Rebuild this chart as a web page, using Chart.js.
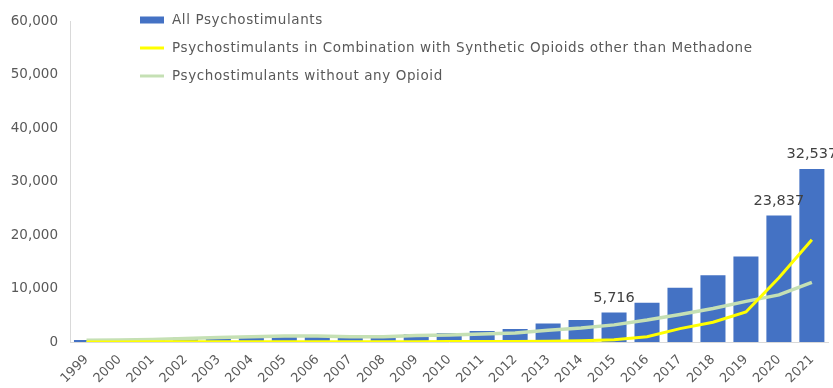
<!DOCTYPE html>
<html>
<head>
<meta charset="utf-8">
<script src="https://cdn.jsdelivr.net/npm/chart.js@4.4.1/dist/chart.umd.min.js"></script>
<style>
  html, body { margin: 0; padding: 0; background: #fff; }
  #wrap { width: 833px; height: 388px; position: relative; }
</style>
</head>
<body>
<div id="wrap"><canvas id="chart"></canvas></div>
<script>
// Overdose deaths involving psychostimulants, 1999-2021
const years = ['1999', '2000', '2001', '2002', '2003', '2004', '2005', '2006', '2007', '2008', '2009',
    '2010', '2011', '2012', '2013', '2014', '2015', '2016', '2017', '2018', '2019', '2020', '2021'];
const allPsychostimulants = [547, 578, 741, 960, 1073, 1331, 1506, 1459, 1388, 1302, 1632,
    1854, 2266, 2635, 3627, 4298, 5716, 7542, 10333, 12676, 16167, 23837, 32537];
const withSyntheticOpioids = [20, 20, 30, 40, 50, 60, 70, 70, 70, 60, 70,
    80, 90, 100, 150, 220, 420, 1000, 2500, 3700, 5600, 12000, 19100];
const withoutOpioids = [350, 360, 450, 650, 850, 1000, 1100, 1100, 1000, 1000, 1200,
    1300, 1500, 1700, 2200, 2600, 3200, 4100, 5150, 6250, 7600, 8800, 11150];
const labeledYears = ['2015', '2020', '2021'];

const FONT = '"DejaVu Sans", sans-serif';
const TEXT = '#595959';

// vertical legend drawn inside the plot, top left
const stackedLegend = {
    id: 'stackedLegend',
    afterDraw(chart) {
        const ctx = chart.ctx;
        const x = 140, y0 = 20, step = 28;
        ctx.save();
        ctx.font = '13.5px ' + FONT;
        ctx.letterSpacing = '0.6px';
        ctx.textBaseline = 'middle';
        chart.data.datasets.forEach((ds, i) => {
            const y = y0 + i * step;
            if (ds.type === 'bar') {
                ctx.fillStyle = ds.backgroundColor;
                ctx.fillRect(x, y - 3.5, 24, 7);
            } else {
                ctx.strokeStyle = ds.borderColor;
                ctx.lineWidth = 3;
                ctx.beginPath();
                ctx.moveTo(x, y);
                ctx.lineTo(x + 24, y);
                ctx.stroke();
            }
            ctx.fillStyle = TEXT;
            ctx.fillText(ds.label, x + 32, y);
        });
        ctx.restore();
    }
};

// value labels above selected bars
const barValueLabels = {
    id: 'barValueLabels',
    afterDatasetsDraw(chart) {
        const ctx = chart.ctx;
        const idx = chart.data.datasets.findIndex(d => d.type === 'bar');
        const meta = chart.getDatasetMeta(idx);
        ctx.save();
        ctx.font = '14.5px ' + FONT;
        ctx.fillStyle = '#404040';
        ctx.textAlign = 'center';
        ctx.textBaseline = 'bottom';
        labeledYears.forEach(yr => {
            const i = years.indexOf(yr);
            const el = meta.data[i];
            const v = chart.data.datasets[idx].data[i];
            ctx.fillText(v.toLocaleString('en-US'), el.x, el.y - 6);
        });
        ctx.restore();
    }
};

new Chart(document.getElementById('chart'), {
    type: 'bar',
    data: {
        labels: years,
        datasets: [
            {
                type: 'bar',
                label: 'All Psychostimulants',
                data: allPsychostimulants,
                backgroundColor: '#4472C4',
                borderColor: 'rgba(255,255,255,0.5)',
                borderWidth: 1,
                categoryPercentage: 1,
                barPercentage: 0.82,
                order: 2
            },
            {
                type: 'line',
                label: 'Psychostimulants in Combination with Synthetic Opioids other than Methadone',
                data: withSyntheticOpioids,
                borderColor: '#FFFF00',
                borderWidth: 3,
                pointRadius: 0,
                tension: 0,
                order: 0
            },
            {
                type: 'line',
                label: 'Psychostimulants without any Opioid',
                data: withoutOpioids,
                borderColor: '#C5E0B4',
                borderWidth: 3.5,
                pointRadius: 0,
                tension: 0,
                order: 1
            }
        ]
    },
    options: {
        responsive: true,
        maintainAspectRatio: false,
        animation: false,
        layout: { padding: { top: 21, right: 4, left: 0, bottom: 0 } },
        plugins: {
            legend: { display: false },
            tooltip: { enabled: false }
        },
        scales: {
            x: {
                offset: true,
                grid: { display: false, drawTicks: false },
                border: { color: '#D9D9D9', width: 1 },
                ticks: {
                    color: TEXT,
                    font: { family: FONT, size: 13 },
                    minRotation: 45,
                    maxRotation: 45,
                    padding: 10,
                    autoSkip: false
                },
                afterFit(scale) { scale.height = 46; }
            },
            y: {
                min: 0,
                max: 60000,
                grid: { display: false, drawTicks: false },
                border: { color: '#D9D9D9', width: 1 },
                ticks: {
                    stepSize: 10000,
                    color: TEXT,
                    font: { family: FONT, size: 13.5 },
                    padding: 12,
                    callback: v => v.toLocaleString('en-US')
                },
                afterFit(scale) { scale.width = 70; }
            }
        }
    },
    plugins: [stackedLegend, barValueLabels]
});
</script>
</body>
</html>
